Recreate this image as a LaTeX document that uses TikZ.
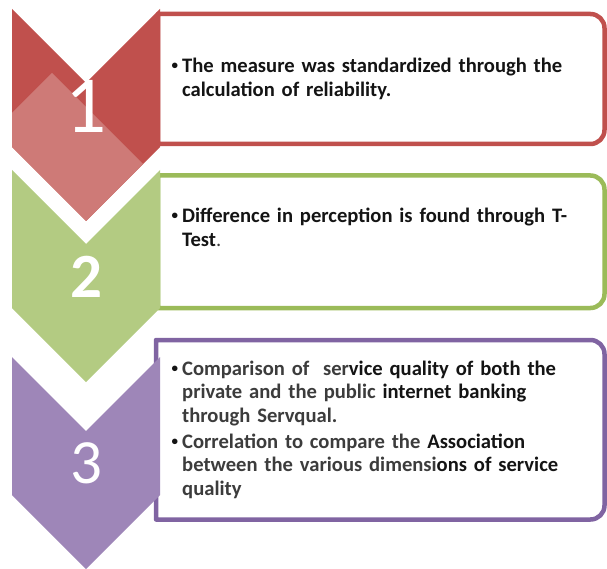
\documentclass[tikz,border=0pt]{standalone}
\usepackage{fontspec}
\setmainfont{Carlito}
\definecolor{redA}{HTML}{C0504D}
\definecolor{redB}{HTML}{CE7A77}
\definecolor{greenA}{HTML}{9BBB59}
\definecolor{greenB}{HTML}{B3CB82}
\definecolor{purpA}{HTML}{8064A2}
\definecolor{purpB}{HTML}{9E86B8}
\definecolor{txt}{HTML}{141414}
\definecolor{txtgray}{HTML}{3C3C3C}

% white panel with square left corners and rounded right corners
% #1 colour, #2 left, #3 top, #4 right, #5 bottom
\newcommand\sidepanel[5]{%
  \draw[panel, draw=#1] (#2,#3) -- ({#4-14},#3) arc (-90:0:14)
    -- (#4,{#5-14}) arc (0:90:14) -- (#2,#5) -- cycle;}
% downward chevron whose top edge is at #1
\newcommand\chevronpath[1]{(12,#1) -- (86,{#1+74}) -- (160,#1) -- (160,{#1+138})
  -- (86,{#1+212}) -- (12,{#1+138}) -- cycle}

\begin{document}
\begin{tikzpicture}[x=1pt,y=-1pt,
  panel/.style={line width=4.5pt, fill=white, line join=round},
  num/.style={text=white, inner sep=0pt},
  item/.style={anchor=base west, inner sep=0pt, align=left, text width=430pt,
    font=\fontsize{20.6}{23.5}\selectfont\bfseries, text=txt},
  dot/.style={anchor=base west, inner sep=0pt,
    font=\fontsize{13}{13}\selectfont\bfseries, text=txt}]
\useasboundingbox (0,0) rectangle (607,569);

% panels
\sidepanel{redA}{158}{14}{604.5}{144}
\sidepanel{greenA}{158}{175.5}{604.5}{308}
\sidepanel{purpA}{156}{340}{604.5}{519.5}

% chevrons
\fill[redA] \chevronpath{9};
\begin{scope}
  \clip \chevronpath{9};
  \fill[redB] (52,73) -- (200,221) -- (52,369) -- (-96,221) -- cycle;
\end{scope}
\fill[greenB] \chevronpath{170};
\fill[purpB] \chevronpath{357};

% step numbers
\node[num, font=\fontsize{81}{81}\selectfont] (n1) at (86,106) {1};
\node[num, font=\fontsize{63}{63}\selectfont\bfseries] (n2) at (86,277) {2};
\node[num, font=\fontsize{63}{63}\selectfont] (n3) at (86,463) {3};

% panel texts
\node[dot] (b1) at (171.5,70) {•};
\node[item] (t1) at (182,73) {The measure was standardized through the\\calculation of reliability.};

\node[dot] (b2) at (171.5,220) {•};
\node[item] (t2) at (182,223) {Difference in perception is found through T-\\Test\textcolor{txtgray}{\mdseries .}};

\node[dot] (b3) at (171.5,372) {•};
\node[item] (t3) at (182,375) {\textcolor{txtgray}{Comparison of\ \ ser}vice quality of both the\\
  \textcolor{txtgray}{private and the public} internet banking\\
  \textcolor{txtgray}{through Servqual.}};

\node[dot] (b4) at (171.5,445) {•};
\node[item] (t4) at (182,448) {\textcolor{txtgray}{Correlation to compare the} Association\\
  \textcolor{txtgray}{between the various dimensi}ons of service\\
  \textcolor{txtgray}{quality}};
\end{tikzpicture}
\end{document}
